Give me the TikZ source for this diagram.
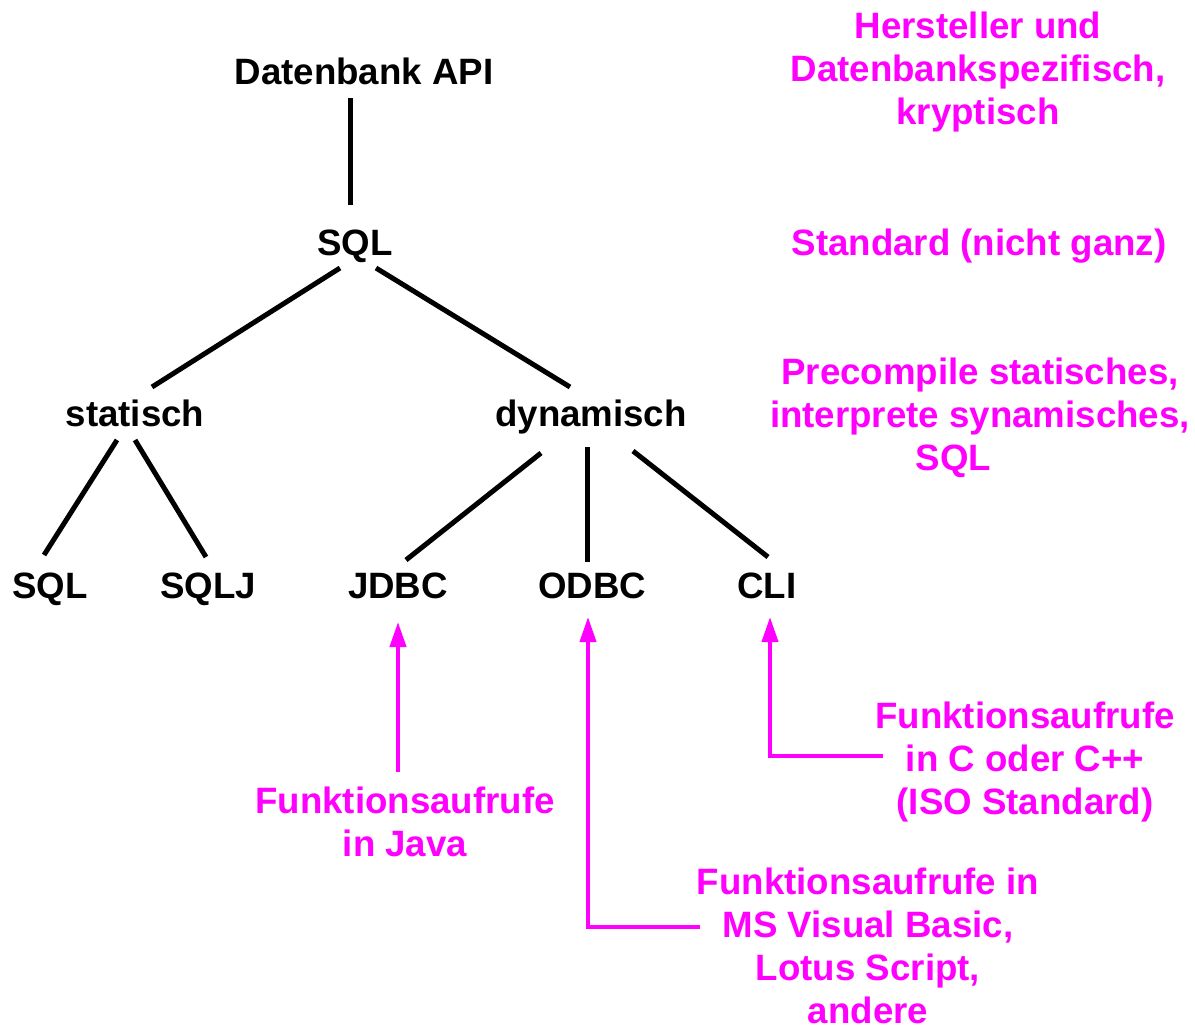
\documentclass[tikz,border=0pt]{standalone}
\usepackage{fontspec}
\setmainfont{Liberation Sans}
\usetikzlibrary{calc,arrows.meta}
\definecolor{mag}{HTML}{FF00FF}
\begin{document}
\begin{tikzpicture}[x=0.75pt,y=-0.75pt,
  lbl/.style={inner sep=0pt,anchor=base,font=\fontsize{27.5}{32.25}\selectfont\bfseries},
  note/.style={lbl,text=mag,align=center},
  tree/.style={line width=3.75pt,black},
  ptr/.style={line width=3pt,mag,-{Triangle[length=18.75pt,width=12pt]}}]
\useasboundingbox (0,0) rectangle (1195,1029);
% tree nodes
\node[lbl] (api) at (364,84) {Datenbank API};
\node[lbl] (sqltop) at (355,255) {SQL};
\node[lbl] (stat) at (135,426) {statisch};
\node[lbl] (dyn) at (591,426) {dynamisch};
\node[lbl] (sql) at (50,598) {SQL};
\node[lbl] (sqlj) at (208,598) {SQLJ};
\node[lbl] (jdbc) at (398,598) {JDBC};
\node[lbl] (odbc) at (592,598) {ODBC};
\node[lbl] (cli) at (767,598) {CLI};
% tree connectors
\draw[tree] ($(api.base)+(-14,14)$) -- ($(sqltop.base)+(-5,-50)$);
\draw[tree] ($(sqltop.base)+(-15,13)$) -- ($(stat.base)+(17,-39)$);
\draw[tree] ($(sqltop.base)+(21,13)$) -- ($(dyn.base)+(-21,-39)$);
\draw[tree] ($(stat.base)+(-18,14)$) -- ($(sql.base)+(-6,-43)$);
\draw[tree] ($(stat.base)+(0,14)$) -- ($(sqlj.base)+(-2,-41)$);
\draw[tree] ($(dyn.base)+(-50,27)$) -- ($(jdbc.base)+(8,-38)$);
\draw[tree] ($(dyn.base)+(-4,21)$) -- ($(odbc.base)+(-5,-36)$);
\draw[tree] ($(dyn.base)+(42,25)$) -- ($(cli.base)+(1,-41)$);
% notes (anchor = baseline of last line)
\node[note] (n1) at (978,124) {Hersteller und\\Datenbankspezifisch,\\kryptisch};
\node[note] (n2) at (979,255) {Standard (nicht ganz)};
\node[note] (n3) at (980,470) {Precompile statisches,\\interprete synamisches,\\SQL\hspace*{40pt}};
\node[note] (java) at (405,856) {Funktionsaufrufe\\in Java};
\node[note] (ms) at (868,1023) {Funktionsaufrufe in\\MS Visual Basic,\\Lotus Script,\\andere};
\node[note] (cnote) at (1025,814) {Funktionsaufrufe\\in C oder C++\\(ISO Standard)};
% pointer connectors
\coordinate (javaend) at (398,772);
\coordinate (msend) at (700,927);
\coordinate (cend) at (883,756);
\draw[ptr] (javaend) -- ($(jdbc.base)+(0,24)$);
\draw[ptr] (msend) -| ($(odbc.base)+(-4,19)$);
\draw[ptr] (cend) -| ($(cli.base)+(3,19)$);
\end{tikzpicture}
\end{document}
